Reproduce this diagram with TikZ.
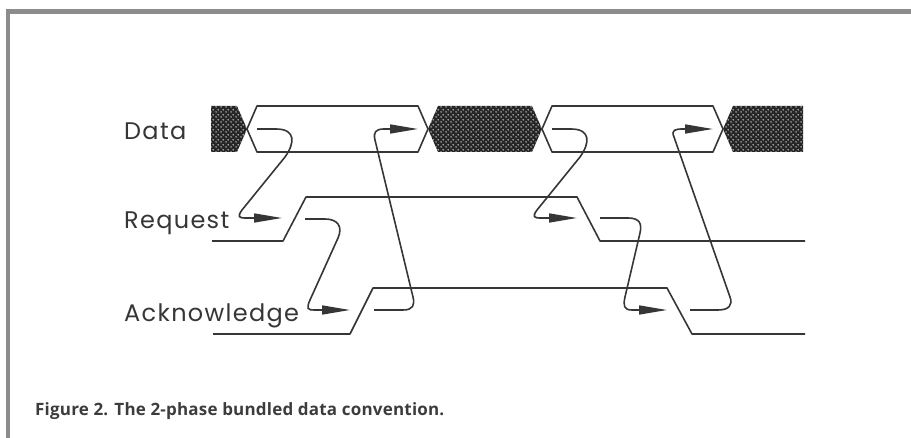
\documentclass[tikz,border=0pt]{standalone}
\usepackage{fontspec}
\setmainfont{Poppins}[LetterSpace=5.5]
\newfontfamily\capfont{Open Sans}[LetterSpace=1.2]
\usetikzlibrary{arrows.meta,patterns}
\pgfdeclarepatternformonly{wdots}{\pgfpointorigin}{\pgfpoint{5pt}{5pt}}{\pgfpoint{5pt}{5pt}}{%
  \pgfpathcircle{\pgfpoint{1.25pt}{1.25pt}}{0.95pt}%
  \pgfpathcircle{\pgfpoint{3.75pt}{3.75pt}}{0.95pt}%
  \pgfusepath{fill}}
\definecolor{ink}{HTML}{363636}
\definecolor{frame}{HTML}{8C8C8C}
\definecolor{captxt}{HTML}{3C3C3C}
\tikzset{
  wave/.style={draw=ink, line width=1.6pt, line join=round},
  hatch/.style={fill=black!85},
  hatchdots/.style={pattern=wdots, pattern color=white!78!black},
  handshake/.style={draw=ink, line width=1.6pt, -{Triangle[length=28pt,width=9pt]}},
  siglabel/.style={anchor=base west, inner sep=0pt, text=ink, font=\fontsize{24}{27}\selectfont},
  caption/.style={anchor=base west, inner sep=0pt, text=captxt, font=\capfont\bfseries\fontsize{17}{20}\selectfont}
}
\begin{document}
\begin{tikzpicture}[x=1pt,y=-1pt]
\useasboundingbox (0,0) rectangle (911,438);
% frame
\draw[frame, line width=4.5pt, line join=miter] (8,438) -- (8,11.5) -- (911,11.5);
% labels
\node[siglabel] (ldata) at (124,140) {Data};
\node[siglabel] (lreq) at (124,229) {Request};
\node[siglabel] (lack) at (124,322) {Acknowledge};
% data bus hatched segments
\foreach \p in {
  {(211,106) -- (237,106) -- (247,129) -- (237,152) -- (211,152) -- cycle},
  {(428,129) -- (438,106) -- (532,106) -- (542,129) -- (532,152) -- (438,152) -- cycle},
  {(723,129) -- (733,106) -- (803,106) -- (803,152) -- (733,152) -- cycle}}
{
  \fill[hatch] \p;
  \fill[hatchdots] \p;
}
% data bus valid segments
\draw[wave] (247,129) -- (257,106) -- (418,106) -- (428,129) -- (418,152) -- (257,152) -- cycle;
\draw[wave] (542,129) -- (552,106) -- (713,106) -- (723,129) -- (713,152) -- (552,152) -- cycle;
% request and acknowledge
\draw[wave] (212,241) -- (283,241) -- (306,197) -- (577,197) -- (600,241) -- (805,241);
\draw[wave] (213,334) -- (350,334) -- (373,288) -- (667,288) -- (692,334) -- (805,334);
% handshake coordinates
\coordinate (d1) at (257,129); \coordinate (r1t) at (282,218);
\coordinate (r1) at (305,219); \coordinate (a1t) at (350,310);
\coordinate (a1) at (374,310); \coordinate (d2t) at (418,129);
\coordinate (d2) at (552,129); \coordinate (r2t) at (577,218);
\coordinate (r2) at (600,218); \coordinate (a2t) at (667,310);
\coordinate (a2) at (690,310); \coordinate (d3t) at (713,129);
% handshake arrows
\draw[handshake] (d1) -- (276,129) .. controls (296,129) and (295,143) .. (285,157) -- (242,210)
  .. controls (237,217) and (239,218) .. (246,218) -- (r1t);
\draw[handshake] (r1) -- (325,219) .. controls (338,219) and (343,227) .. (338,238) -- (310,300)
  .. controls (306,309) and (308,310) .. (314,310) -- (a1t);
\draw[handshake] (a1) -- (403,310) .. controls (413,310) and (415,305) .. (413,297) -- (375,140)
  .. controls (373,132) and (376,129) .. (384,129) -- (d2t);
\draw[handshake] (d2) -- (571,129) .. controls (591,129) and (590,143) .. (580,157) -- (537,210)
  .. controls (532,217) and (534,218) .. (541,218) -- (r2t);
\draw[handshake] (r2) -- (628,218) .. controls (640,218) and (642,224) .. (640,233) -- (625,297)
  .. controls (623,306) and (624,310) .. (632,310) -- (a2t);
\draw[handshake] (a2) -- (718,310) .. controls (729,310) and (733,305) .. (730,297) -- (674,137)
  .. controls (671,130) and (675,129) .. (683,129) -- (d3t);
% caption
\node[caption] (cap) at (35,416) {Figure 2. The 2-phase bundled data convention.};
\end{tikzpicture}
\end{document}
